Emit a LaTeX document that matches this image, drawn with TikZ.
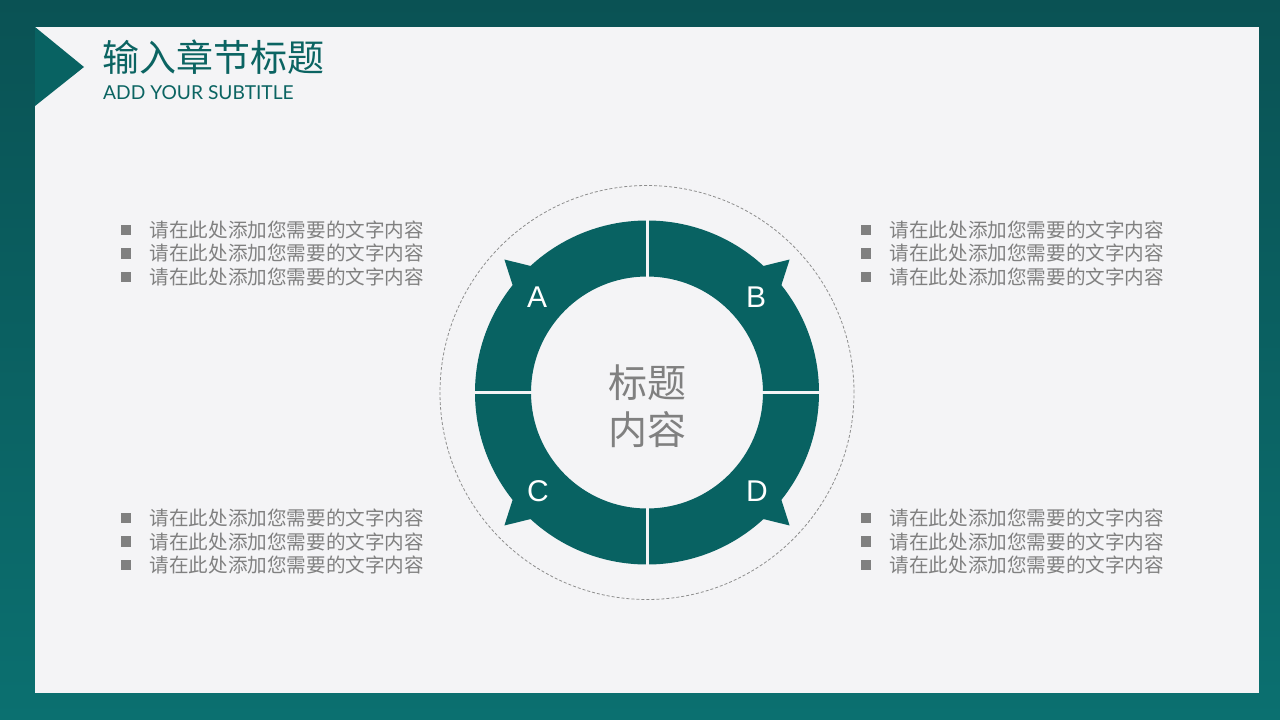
\documentclass[tikz,border=0pt]{standalone}
\usepackage{fontspec}
\setmainfont{Noto Sans CJK SC}
\newfontfamily\cjk{Noto Sans CJK SC}
\newfontfamily\latin{Liberation Sans}
\newfontfamily\subfont{Lato}
\usetikzlibrary{calc}
\definecolor{bgdark}{HTML}{0A5254}
\definecolor{bglight}{HTML}{0B7070}
\definecolor{panel}{HTML}{F4F4F6}
\definecolor{ringteal}{HTML}{086262}
\definecolor{titlecol}{HTML}{0B6462}
\definecolor{txtgray}{HTML}{808080}
\definecolor{dashgray}{HTML}{8E8E8E}
\begin{document}
\begin{tikzpicture}[x=1pt,y=-1pt,
  bullettext/.style={anchor=west, inner sep=0pt, text=txtgray, font=\cjk\fontsize{19.6}{20}\selectfont},
  bulletsq/.style={fill=txtgray, minimum size=10.5pt, inner sep=0pt},
  seglabel/.style={text=white, font=\latin\fontsize{30}{30}\selectfont, inner sep=0pt},
  gapline/.style={draw=panel, line width=3pt}]
\useasboundingbox (0,0) rectangle (1280,720);
\shade[top color=bgdark, bottom color=bglight] (0,0) rectangle (1280,720);
\fill[panel] (35,27) rectangle (1259,693);
% header marker
\coordinate (h1) at (35,27);
\coordinate (h2) at (84,67);
\coordinate (h3) at (35,106);
\fill[ringteal] (h1) -- (h2) -- (h3) -- cycle;
\node[anchor=west, inner sep=0pt, text=titlecol, font=\cjk\fontsize{37}{37}\selectfont] (title) at (102,57) {输入章节标题};
\node[anchor=west, inner sep=0pt, text=titlecol, font=\subfont\fontsize{19.2}{19.2}\selectfont] (subtitle) at (103,93) {ADD YOUR SUBTITLE};
% ring
\coordinate (c) at (647,392.5);
\draw[dashgray, line width=0.8pt, dash pattern=on 3pt off 2pt] (c) circle[radius=207pt];
\fill[ringteal, even odd rule] (c) circle[radius=172pt] (c) circle[radius=116pt];
\foreach \a in {137,43,223,317}{
  \fill[ringteal] ($(c)+(\a+4.6:171pt)$) -- ($(c)+(\a:195pt)$) -- ($(c)+(\a-4.6:171pt)$) -- cycle;
}
\foreach \a in {0,90,180,270}{
  \draw[gapline] ($(c)+(\a:112pt)$) -- ($(c)+(\a:176pt)$);
}
\node[seglabel] (la) at (537,297) {A};
\node[seglabel] (lb) at (756,297) {B};
\node[seglabel] (lc) at (538,491) {C};
\node[seglabel] (ld) at (757,491) {D};
\node[align=center, inner sep=0pt, text=txtgray, font=\cjk\fontsize{39}{47}\selectfont] (ctitle) at (647,406) {标题\\内容};
% bullet lists
\foreach \col/\bx in {l/126, r/866}{
  \foreach \row/\by in {t/230, b/518}{
    \foreach \i in {0,1,2}{
      \node[bulletsq] (sq-\col\row\i) at (\bx, \by+23.5*\i) {};
      \node[bullettext] (tx-\col\row\i) at (\bx+23.5, \by+23.5*\i) {请在此处添加您需要的文字内容};
    }
  }
}
\end{tikzpicture}
\end{document}
